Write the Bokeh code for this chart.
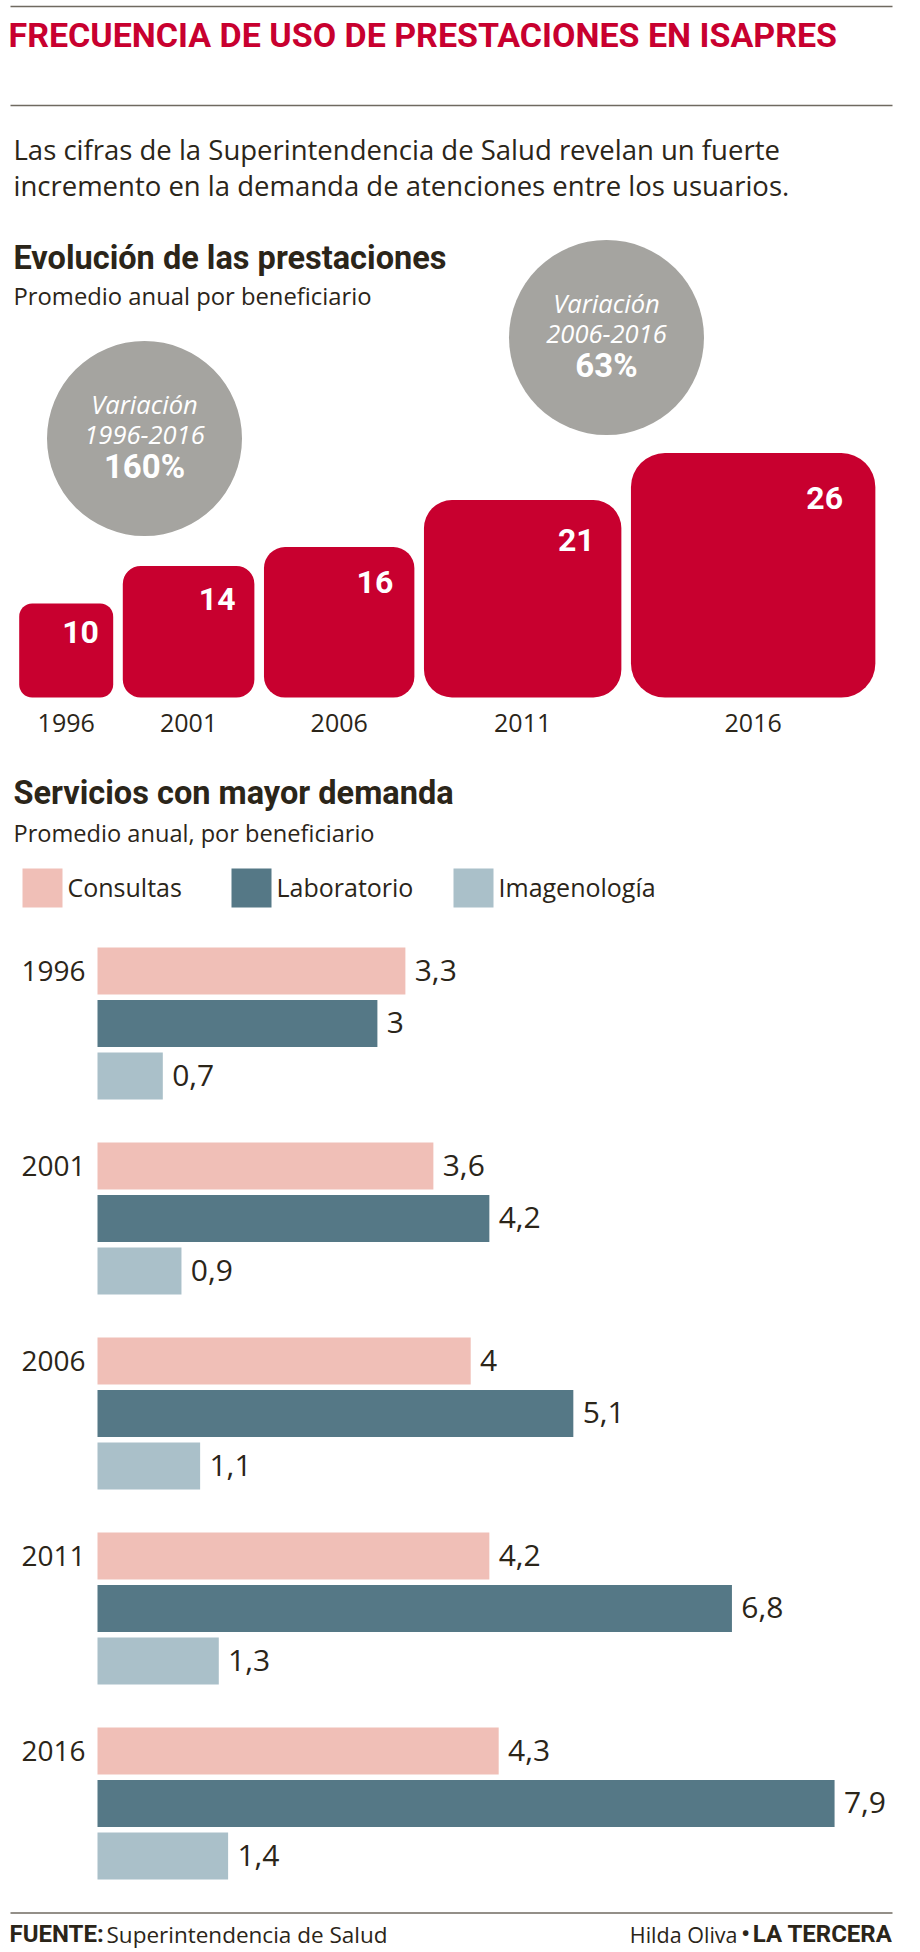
from bokeh.plotting import figure
from bokeh.models import Range1d
from bokeh.embed import file_html
from bokeh.resources import INLINE
from bokeh.core.properties import value

# ---------------- data ----------------
years = ["1996", "2001", "2006", "2011", "2016"]
prestaciones = [10, 14, 16, 21, 26]
variacion_periodos = ["1996-2016", "2006-2016"]
variacion_valores = ["160%", "63%"]
series = ["Consultas", "Laboratorio", "Imagenología"]
consultas = [3.3, 3.6, 4.0, 4.2, 4.3]
laboratorio = [3.0, 4.2, 5.1, 6.8, 7.9]
imagenologia = [0.7, 0.9, 1.1, 1.3, 1.4]

RED = "#c8002f"
GRAY = "#a5a4a0"
TEXT = "#2b2519"
RULE = "#6f6a60"
SERIES_COLORS = ["#f0bfb7", "#557886", "#aac0c9"]
BODY = "Open Sans"
HEAD = "Roboto"
SHIFT = 0.37   # baseline correction, in em

W, H = 916, 1950
p = figure(width=W, height=H, x_range=Range1d(0, W), y_range=Range1d(H, 0),
           output_backend="svg", toolbar_location=None, min_border=0,
           x_axis_location=None, y_axis_location=None)
p.grid.visible = False
p.outline_line_color = None
p.background_fill_color = "white"
p.border_fill_color = "white"

# library scales for the two charts
BOX_PX = 9.4      # pixels per unit of prestaciones
BOX_X0 = 18.7
BOX_Y0 = 697.0
BAR_PX = 93.3     # pixels per unit of services
BAR_X0 = 97.0
p.extra_x_ranges = {
    "bx": Range1d((0 - BOX_X0) / BOX_PX, (W - BOX_X0) / BOX_PX),
    "hx": Range1d((0 - BAR_X0) / BAR_PX, (W - BAR_X0) / BAR_PX),
}
p.extra_y_ranges = {"by": Range1d((BOX_Y0 - H) / BOX_PX, (BOX_Y0 - 0) / BOX_PX)}


def txt(x, y, s, size, color=TEXT, font=BODY, style="normal", align="left", **kw):
    p.text(x=[x], y=[y - SHIFT * size], text=[s], text_font=value(font), text_font_size=f"{size}px",
           text_font_style=style, text_color=color, text_align=align,
           text_baseline="alphabetic", **kw)


def fmt(v):
    return f"{v:g}".replace(".", ",")


# ---------------- header ----------------
p.segment(x0=[10, 10, 10], y0=[6, 105, 1912.5], x1=[892, 892, 892], y1=[6, 105, 1912.5],
          line_color=RULE, line_width=1.5)
txt(8, 47, "FRECUENCIA DE USO DE PRESTACIONES EN ISAPRES", 34, color=RED, font=HEAD, style="bold")
txt(13, 159, "Las cifras de la Superintendencia de Salud revelan un fuerte", 27.5)
txt(13, 195, "incremento en la demanda de atenciones entre los usuarios.", 27.5)

# ---------------- chart 1 ----------------
txt(13, 270, "Evolución de las prestaciones", 32.5, font=HEAD, style="bold")
txt(13, 304, "Promedio anual por beneficiario", 23.8)

cx = [144, 606]
cy = [438, 337]
p.circle(x=cx, y=cy, radius=97.5, fill_color=GRAY, line_color=None)
for i in range(2):
    txt(cx[i], cy[i] - 25, "Variación", 25.5, color="white", style="italic", align="center")
    txt(cx[i], cy[i] + 6, variacion_periodos[i], 25.5, color="white", style="italic", align="center")
    txt(cx[i], cy[i] + 40, variacion_valores[i], 33, color="white", font=HEAD, style="bold", align="center")

gap = 1.02
lefts = []
acc = 0.0
for v in prestaciones:
    lefts.append(acc)
    acc += v + gap
for i, v in enumerate(prestaciones):
    p.quad(left=[lefts[i]], right=[lefts[i] + v], bottom=[0], top=[v], fill_color=RED,
           line_color=None, border_radius=int(round(0.14 * v * BOX_PX)),
           x_range_name="bx", y_range_name="by")
    p.text(x=[lefts[i] + v - (0.32 + 0.12 * v)],
           y=[v - (3.2 + 0.11 * v) + SHIFT * 32 / BOX_PX],
           text=[str(v)], text_font=value(HEAD), text_font_size="32px",
           text_font_style="bold", text_color="white", text_align="right",
           text_baseline="alphabetic", x_range_name="bx", y_range_name="by")
    txt(lefts[i] + v / 2, 732, years[i], 25, align="center", x_range_name="bx")

# ---------------- chart 2 ----------------
txt(13, 805, "Servicios con mayor demanda", 32.5, font=HEAD, style="bold")
txt(13, 841, "Promedio anual, por beneficiario", 23.6)

sw_x = [22, 231, 453]
for s in range(3):
    p.quad(left=[sw_x[s]], right=[sw_x[s] + 40], top=[868], bottom=[907],
           fill_color=SERIES_COLORS[s], line_color=None)
    txt(sw_x[s] + 45, 896, series[s], 25)

vals = [consultas, laboratorio, imagenologia]
for s, arr in enumerate(vals):
    ys = [970.5 + g * 195 + s * 52.5 for g in range(len(years))]
    p.hbar(y=ys, left=0, right=arr, height=47, fill_color=SERIES_COLORS[s],
           line_color=None, x_range_name="hx")
    p.text(x=[v + 0.1 for v in arr], y=[yy + 10.5 - SHIFT * 30 for yy in ys],
           text=[fmt(v) for v in arr],
           text_font=value(BODY), text_font_size="30px", text_color=TEXT,
           text_baseline="alphabetic", x_range_name="hx")
for g, yr in enumerate(years):
    txt(85, 970.5 + g * 195 + 10, yr, 28, align="right")

# ---------------- footer ----------------
txt(9, 1942, "FUENTE:", 24, font=HEAD, style="bold")
txt(106, 1942, "Superintendencia de Salud", 22.5)
txt(892, 1942, "LA TERCERA", 24, font=HEAD, style="bold", align="right")
txt(745, 1942, "•", 24, font=HEAD, style="bold", align="center")
txt(737, 1942, "Hilda Oliva", 21.5, align="right")

open("out.html", "w").write(file_html(p, INLINE))
